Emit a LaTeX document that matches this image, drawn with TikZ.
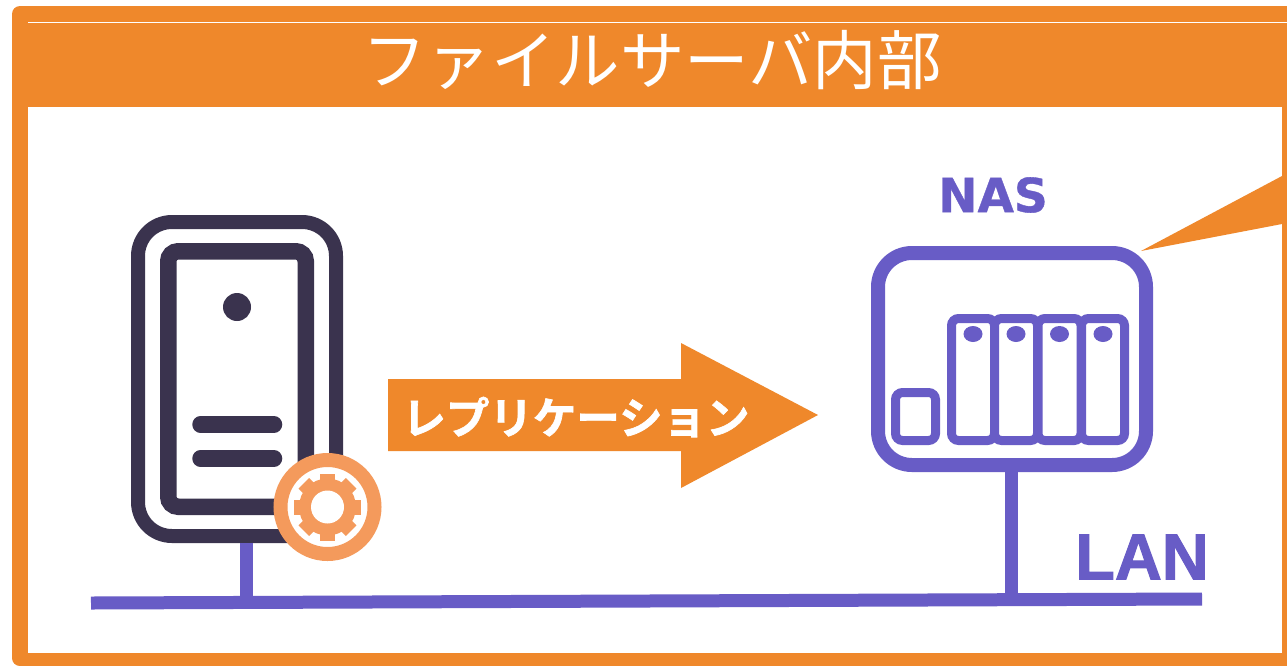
\documentclass[tikz,border=0pt]{standalone}
\usepackage{fontspec}
\newfontfamily\cjk{Noto Sans CJK JP}
\newfontfamily\cjkb[FakeBold=1.5]{Noto Sans CJK JP Bold}
\newfontfamily\libb[FakeBold=1.5]{Liberation Sans Bold}
\newfontfamily\dejb[FakeBold=0.8]{DejaVu Sans Bold}
\definecolor{frameor}{HTML}{EF882B}
\definecolor{gearor}{HTML}{F49A5C}
\definecolor{lanpur}{HTML}{685CC6}
\definecolor{srvdark}{HTML}{3A334E}
\tikzset{
  box/.style={draw,rectangle,inner sep=0pt,fill=white},
  lanline/.style={draw=lanpur,line width=13pt},
  lbl/.style={inner sep=0pt,outer sep=0pt,text=lanpur},
  drive/.style={box,draw=lanpur,line width=9pt,rounded corners=7pt,outer sep=0pt}
}
\begin{document}
\begin{tikzpicture}[x=1pt,y=-1pt]
\useasboundingbox (0,0) rectangle (1287,665);
% frame
\fill[frameor,rounded corners=8pt] (12,6) rectangle (1320,666);
\fill[white] (27.5,107) rectangle (1282,653);
\draw[white,line width=0.8pt] (28,22.3) -- (1287,22.3);
\node[inner sep=0pt,white,font=\cjk\fontsize{64.5}{64.5}\selectfont] (title) at (652,60) {ファイルサーバ内部};
% callout tail
\fill[frameor] (1141,251) -- (1282,176) -- (1282,224) -- cycle;
% connector coordinates
\coordinate (lanA) at (91,603);
\coordinate (lanB) at (1202,599);
\coordinate (srvTap) at (246,602.5);
\coordinate (nasTap) at (1011,599.5);
% server
\node[box,draw=srvdark,line width=14pt,rounded corners=34pt,minimum width=198pt,minimum height=314pt] (server) at (237,379) {};
\node[box,draw=srvdark,line width=16.5pt,rounded corners=10pt,minimum width=137.5pt,minimum height=255.5pt] (serverin) at (237,379) {};
\fill[srvdark] (237,307) circle (14);
\draw[srvdark,line width=16.5pt,line cap=round] (200.5,424.5) -- (274,424.5);
\draw[srvdark,line width=16.5pt,line cap=round] (200.5,458.5) -- (274,458.5);
% NAS
\node[box,draw=lanpur,line width=14pt,rounded corners=34pt,minimum width=268pt,minimum height=212pt] (nas) at (1012,359) {};
\node[drive,minimum width=40pt,minimum height=48pt] (slot) at (915.5,416.5) {};
\node[drive,minimum width=43pt,minimum height=122pt] (d1) at (973,379.5) {};
\node[drive,minimum width=43pt,minimum height=122pt] (d2) at (1016,379.5) {};
\node[drive,minimum width=43pt,minimum height=122pt] (d3) at (1059.5,379.5) {};
\node[drive,minimum width=43pt,minimum height=122pt] (d4) at (1103,379.5) {};
\foreach \n in {1,2,3,4} \fill[lanpur] (d\n.north) ++(0,15.5) ellipse (9.5 and 8);
% LAN connectors
\draw[lanline] (lanA) -- (lanB);
\draw[lanline] (srvTap |- server.south) -- (srvTap);
\draw[lanline] (nasTap |- nas.south) -- (nasTap);
% gear badge
\node[circle,draw=gearor,fill=white,line width=14pt,inner sep=0pt,outer sep=0pt,minimum size=94pt] (badge) at (327.5,507) {};
\foreach \a in {0,45,...,315} \fill[gearor,rotate around={\a:(badge.center)}] ([shift={(-7.5,-33.5)}]badge.center) rectangle ([shift={(7.5,-20)}]badge.center);
\fill[gearor] (badge.center) circle (28.5);
\fill[white] (badge.center) circle (16.5);
% arrow
\fill[frameor] (388,379) -- (681,379) -- (681,343) -- (818,415) -- (681,488) -- (681,451) -- (388,451) -- cycle;
\node[inner sep=0pt,white,font=\cjkb\fontsize{43.5}{43.5}\selectfont] (repl) at (576,417) {レプリケーション};
% labels
\node[lbl,font=\dejb\fontsize{47}{47}\selectfont] (naslbl) at (993,195) {NAS};
\node[lbl,font=\libb\fontsize{65}{65}\selectfont] (lanlbl) at (1142,557) {LAN};
\end{tikzpicture}
\end{document}
